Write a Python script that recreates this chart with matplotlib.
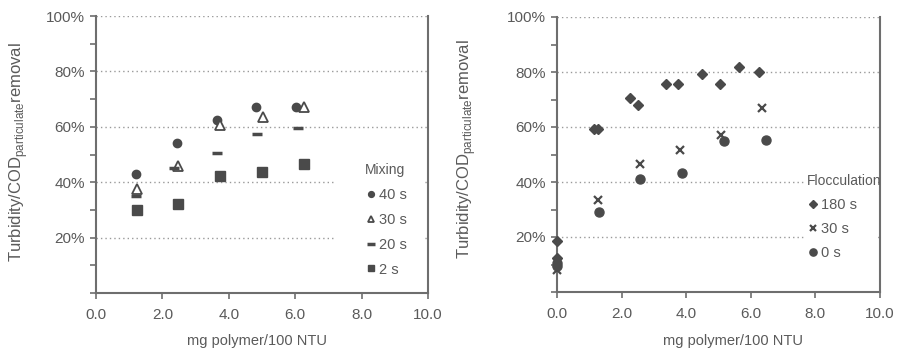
import matplotlib
matplotlib.use("Agg")
import matplotlib.pyplot as plt
from matplotlib.patches import Rectangle

plt.rcParams['font.family'] = ['Liberation Sans', 'DejaVu Sans']
plt.rcParams['mathtext.fontset'] = 'custom'
plt.rcParams['mathtext.rm'] = 'Liberation Sans'

# ---- Left panel: Mixing ----
mix_40_x = [1.20, 2.43, 3.64, 4.82, 6.01]
mix_40_y = [42.9, 54.3, 62.5, 67.2, 67.2]
mix_30_x = [1.23, 2.48, 3.74, 5.02, 6.26]
mix_30_y = [37.5, 45.7, 60.7, 63.5, 67.3]
mix_20_x = [1.21, 2.35, 3.64, 4.84, 6.07]
mix_20_y = [35.1, 45.1, 50.5, 57.5, 59.5]
mix_2_x = [1.23, 2.48, 3.72, 5.01, 6.26]
mix_2_y = [30.0, 32.2, 42.4, 43.8, 46.6]

# ---- Right panel: Flocculation ----
floc_180_x = [0.0, 0.0, 1.14, 1.27, 2.27, 2.52, 3.39, 3.76, 4.49, 5.04, 5.64, 6.25]
floc_180_y = [18.4, 12.4, 59.4, 59.4, 70.5, 68.1, 75.6, 75.6, 79.3, 75.6, 81.8, 80.0]
floc_30_x = [0.0, 1.27, 2.56, 3.80, 5.07, 6.35]
floc_30_y = [7.9, 33.6, 46.7, 51.8, 57.0, 66.9]
floc_0_x = [0.0, 0.0, 1.29, 2.58, 3.88, 5.17, 6.47]
floc_0_y = [10.5, 9.6, 29.1, 41.2, 43.3, 54.8, 55.2]

xticks = [0, 2, 4, 6, 8, 10]
xticklabels = ["0.0", "2.0", "4.0", "6.0", "8.0", "10.0"]
yticks = [0, 10, 20, 30, 40, 50, 60, 70, 80, 90, 100]
yticklabels = ["", "", "20%", "", "40%", "", "60%", "", "80%", "", "100%"]
grid_levels = [20, 40, 60, 80, 100]

ylabel = "Turbidity/COD$_{\\mathregular{particulate}}$removal"
xlabel = "mg polymer/100 NTU"

MC = "#4a4a4a"
TC = "#5a5a5a"
SC = "#6e6e6e"

fig = plt.figure(figsize=(8.98, 3.48), dpi=100)
axL = fig.add_axes([96/898, 55/348, 332/898, 277/348])
axR = fig.add_axes([557/898, 56/348, 323/898, 275/348])


def style(ax, box):
    ax.set_xlim(0, 10)
    ax.set_ylim(0, 100)
    ax.set_xticks(xticks)
    ax.set_xticklabels(xticklabels)
    ax.set_yticks(yticks)
    ax.set_yticklabels(yticklabels)
    ax.tick_params(axis='both', direction='out', length=4, width=1.2,
                   colors=SC, labelcolor=TC, labelsize=11)
    ax.tick_params(axis='x', pad=7)
    ax.tick_params(axis='y', pad=4)
    for s in ['left', 'bottom', 'right']:
        ax.spines[s].set_color(SC)
        ax.spines[s].set_linewidth(1.5)
    ax.spines['top'].set_visible(False)
    for g in grid_levels:
        ax.axhline(g, color='#9a9a9a', lw=1.0, ls=(0, (1, 2.2)), zorder=0.5)
    ax.add_patch(Rectangle((box[0], box[1]), box[2], box[3],
                           transform=ax.transAxes, facecolor='white',
                           edgecolor='none', zorder=0.8))
    ax.set_ylabel(ylabel, fontsize=12, color=TC)
    ax.set_xlabel(xlabel, fontsize=10.5, color=TC)


style(axL, (0.72, 0.02, 0.265, 0.47))
style(axR, (0.768, 0.03, 0.225, 0.43))

axL.yaxis.set_label_coords(-0.2, 0.51)
axL.xaxis.set_label_coords(0.485, -0.148)
axR.yaxis.set_label_coords(-0.245, 0.52)
axR.xaxis.set_label_coords(0.545, -0.153)

# Left plots
axL.plot(mix_40_x, mix_40_y, 'o', ms=6, color=MC, mec=MC, label='40 s', zorder=3)
axL.plot(mix_30_x, mix_30_y, '^', ms=6.5, mfc='white', mec=MC, mew=1.3, label='30 s', zorder=3)
axL.plot(mix_20_x, mix_20_y, '_', ms=7.5, mew=2.5, color=MC, label='20 s', zorder=3)
axL.plot(mix_2_x, mix_2_y, 's', ms=6.5, color=MC, label='2 s', zorder=3)

legL = axL.legend(title='Mixing', loc='upper left', bbox_to_anchor=(0.81, 0.47),
                  frameon=False, fontsize=10.5, title_fontsize=10,
                  handlelength=0.8, handletextpad=0.15, labelspacing=0.75,
                  borderpad=0, borderaxespad=0, alignment='left', markerscale=0.7)
for t in legL.get_texts():
    t.set_color(TC)
legL.get_title().set_color(TC)
legL.set_zorder(5)

# Right plots
axR.plot(floc_180_x, floc_180_y, 'D', ms=5.5, color=MC, label='180 s', zorder=3, clip_on=False)
axR.plot(floc_30_x, floc_30_y, 'x', ms=6, mew=1.6, color=MC, label='30 s', zorder=3, clip_on=False)
axR.plot(floc_0_x, floc_0_y, 'o', ms=6.5, color=MC, label='0 s', zorder=3, clip_on=False)

legR = axR.legend(title='Flocculation', loc='upper left', bbox_to_anchor=(0.775, 0.43),
                  frameon=False, fontsize=10.5, title_fontsize=10,
                  handlelength=0.8, handletextpad=0.15, labelspacing=0.7,
                  borderpad=0, borderaxespad=0, alignment='left', markerscale=0.8)
for t in legR.get_texts():
    t.set_color(TC)
legR.get_title().set_color(TC)
legR.set_zorder(5)

fig.savefig("out.png", dpi=100)
